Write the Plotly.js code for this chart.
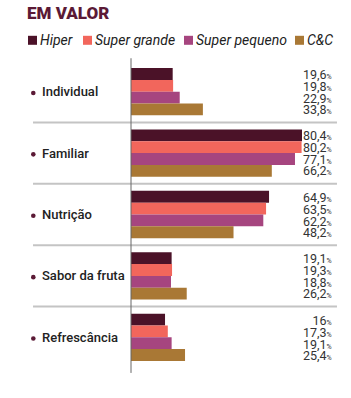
<!DOCTYPE html>
<html>
<head>
<meta charset="utf-8">
<script src="https://cdn.plot.ly/plotly-3.0.1.min.js"></script>
<style>html,body{margin:0;padding:0;background:#fff;}#chart{width:351px;height:398px;}</style>
</head>
<body>
<div id="chart"></div>
<script>
var categories = ["Individual", "Familiar", "Nutrição", "Sabor da fruta", "Refrescância"];
var seriesNames = ["Hiper", "Super grande", "Super pequeno", "C&C"];
var hiper = [19.6, 80.4, 64.9, 19.1, 16];
var superGrande = [19.8, 80.2, 63.5, 19.3, 17.3];
var superPequeno = [22.9, 77.1, 62.2, 18.8, 19.1];
var cc = [33.8, 66.2, 48.2, 26.2, 25.4];
var colors = ["#4b1228", "#f2665c", "#a6457f", "#a97835"];
var title = "EM VALOR";

var series = [hiper, superGrande, superPequeno, cc];
var bargap = 0.23;
var traces = series.map(function (vals, k) {
  return {
    type: "bar", orientation: "h", name: seriesNames[k],
    x: vals, y: categories,
    marker: {color: colors[k], line: {width: 0}},
    hoverinfo: "none", showlegend: false
  };
});

function fmt(v) {
  return String(v).replace(".", ",");
}

var annotations = [];
var shapes = [];
var pxPerCat = 61.4;
categories.forEach(function (c, i) {
  // bullet
  var r = 2.3 / pxPerCat;
  shapes.push({type: "circle", xref: "paper", yref: "y",
    x0: (33.3 - 2.3 - 131) / 213, x1: (33.3 + 2.3 - 131) / 213,
    y0: i + 0.02 - r, y1: i + 0.02 + r,
    fillcolor: "#5b1a36", line: {width: 0}});
  // category label
  annotations.push({
    xref: "paper", yref: "y", x: (41 - 131) / 213, y: i, xanchor: "left", yanchor: "middle",
    text: c, showarrow: false, borderpad: 0,
    font: {family: "Roboto", size: 13, color: "#222", weight: 500}
  });
  // value labels: one block per group, line spacing matching bar pitch
  var lines = series.map(function (vals) {
    return "<span style='font-size:12.5px'>" + fmt(vals[i]) + "</span><span style='font-size:7px'>%</span>";
  });
  annotations.push({
    xref: "paper", yref: "y", x: 0.948, y: i + 0.005, xanchor: "right", yanchor: "middle",
    align: "right", text: lines.join("<br>"), showarrow: false, borderpad: 0,
    font: {family: "Roboto", size: 9.1, color: "#333"}
  });
  if (i < categories.length - 1) {
    shapes.push({
      type: "line", xref: "paper", yref: "y", x0: -0.46, x1: 0.967, y0: i + 0.5, y1: i + 0.5,
      line: {color: "#c4c4c4", width: 2}, layer: "below"
    });
  }
});

// axis line
shapes.push({type: "line", xref: "paper", yref: "paper", x0: 0, x1: 0, y0: -0.016, y1: 1.009,
  line: {color: "#666", width: 1}});

// legend
var legX = [28, 83, 184, 295];
seriesNames.forEach(function (s, k) {
  var x0 = (legX[k] - 131) / 213;
  var x1 = (legX[k] + 9 - 131) / 213;
  shapes.push({type: "rect", xref: "paper", yref: "paper", x0: x0, x1: x1,
    y0: (367.7 - 44.5) / 307, y1: (367.7 - 35.5) / 307,
    fillcolor: colors[k], line: {width: 0}});
  annotations.push({
    xref: "paper", yref: "paper", x: (legX[k] + 11 - 131) / 213, y: (367.7 - 40) / 307,
    xanchor: "left", yanchor: "middle", text: s, showarrow: false, borderpad: 0,
    font: {family: "Roboto", size: 14, color: "#222", style: "italic"}
  });
});

var layout = {
  width: 351, height: 398,
  margin: {l: 131, r: 7, t: 60.7, b: 30.3},
  paper_bgcolor: "#fff", plot_bgcolor: "#fff",
  barmode: "group", bargap: bargap, bargroupgap: 0,
  title: {text: title, x: 27 / 351, xanchor: "left", y: 1 - 13.5 / 398, yanchor: "middle",
    font: {family: "Roboto", size: 17, color: "#5b1a36", weight: 900}},
  xaxis: {range: [0, 100.14], visible: false, fixedrange: true},
  yaxis: {autorange: "reversed", showticklabels: false, showgrid: false, zeroline: false,
    showline: false, ticks: "", fixedrange: true},
  showlegend: false,
  annotations: annotations,
  shapes: shapes
};

Plotly.newPlot("chart", traces, layout, {displayModeBar: false, staticPlot: true});
</script>
</body>
</html>
